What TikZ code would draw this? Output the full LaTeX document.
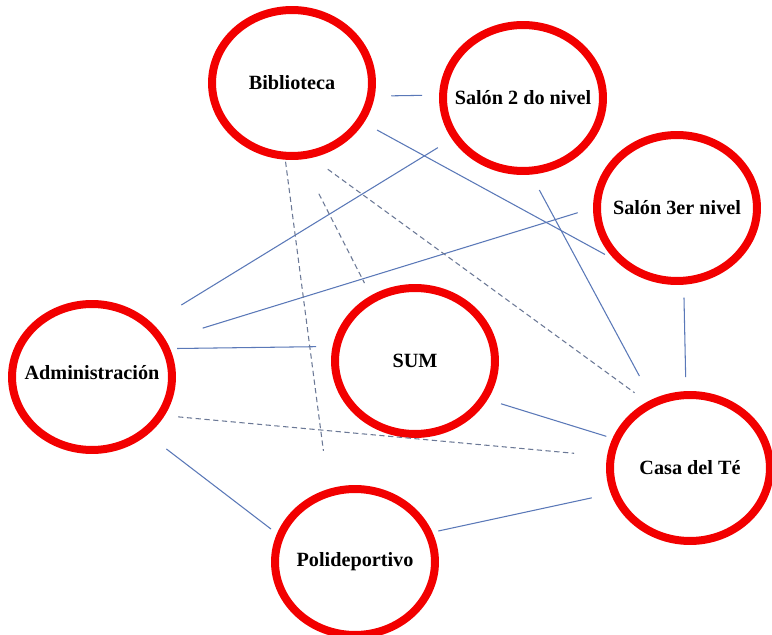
\documentclass[tikz,border=0pt]{standalone}
\usepackage{fontspec}
\setmainfont{Liberation Serif}
\definecolor{ringred}{HTML}{F20000}
\definecolor{linkblue}{HTML}{5A78B8}
\definecolor{linkgray}{HTML}{6B7896}
\usepackage{tikz}
\usetikzlibrary{shapes.geometric}

\begin{document}
\begin{tikzpicture}[
    x=0.02cm, y=-0.02cm,
    place/.style={ellipse, draw=ringred, line width=0.16cm, fill=white,
                  minimum width=3.2cm, minimum height=2.92cm, inner sep=0pt,
                  font=\fontsize{11.5}{13}\selectfont\bfseries},
    link/.style={linkblue, line width=0.6pt},
    dlink/.style={linkgray, line width=0.6pt, dash pattern=on 3pt off 2pt},
  ]
    \fill[white] (0,0) rectangle (772,635);
    \useasboundingbox (0,0) rectangle (772,635);

    \node[place] (bib)  at (292,83)  {\makebox[0pt]{Biblioteca}};
    \node[place] (sal2) at (523,98)  {\makebox[0pt]{Salón 2 do nivel}};
    \node[place] (sal3) at (677,208) {\makebox[0pt]{Salón 3er nivel}};
    \node[place] (adm)  at (92,377)  {\makebox[0pt]{\raisebox{0.18cm}{Administración}}};
    \node[place] (sum)  at (415,361) {\makebox[0pt]{SUM}};
    \node[place] (casa) at (690,468) {\makebox[0pt]{Casa del Té}};
    \node[place] (poli) at (355,562) {\makebox[0pt]{Polideportivo}};

    % solid links
    \draw[link, shorten <=0.33cm, shorten >=0.34cm] (bib.-9.6) -- (sal2.178.9);
    \draw[link, shorten <=0.3cm, shorten >=0.23cm] (bib.-29.5) -- (sal3.220.6);
    \draw[link, shorten <=0.33cm, shorten >=0.69cm] (sal2.210) -- (adm.42.5);
    \draw[link, shorten <=0.32cm, shorten >=0.78cm] (sal3.180) -- (adm.27.8);
    \draw[link, shorten <=0.35cm, shorten >=0.53cm] (sal2.-84.5) -- (casa.119.7);
    \draw[link, shorten <=0.26cm, shorten >=0.28cm] (sal3.-85.6) -- (casa.93.8);
    \draw[link, shorten <=0.14cm, shorten >=0.33cm] (adm.20.6) -- (sum.170.9);
    \draw[link, shorten <=0.28cm, shorten >=0.13cm] (sum.-28.4) -- (casa.159.3);
    \draw[link, shorten <=0.47cm, shorten >=0.15cm] (adm.-46.9) -- (poli.160);
    \draw[link, shorten <=0.12cm, shorten >=0.39cm] (poli.21.1) -- (casa.198.4);

    % dashed links
    \draw[dlink, shorten <=0.04cm, shorten >=0.77cm] (bib.-95.1) -- (poli.110.2);
    \draw[dlink, shorten <=0.77cm, shorten >=0.28cm] (bib.-83.6) -- (sum.124.9);
    \draw[dlink, shorten <=0.39cm, shorten >=0.31cm] (bib.-75.7) -- (casa.123.7);
    \draw[dlink, shorten <=0.27cm, shorten >=0.66cm] (adm.-28.4) -- (casa.172.5);
  \end{tikzpicture}
\end{document}
